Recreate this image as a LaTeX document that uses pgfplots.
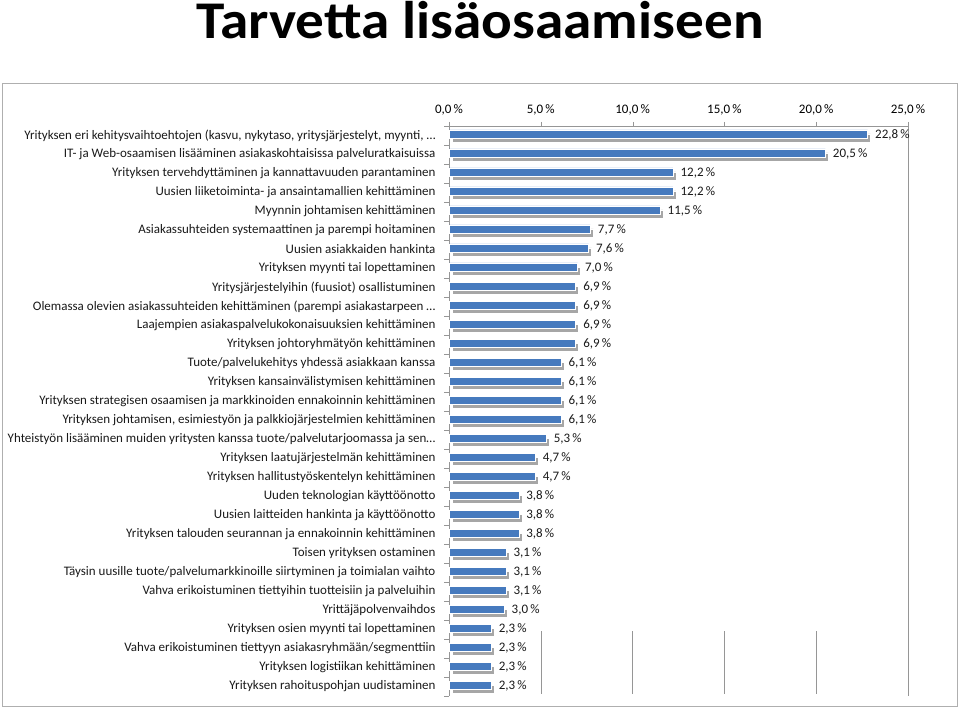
\documentclass[border=0pt]{standalone}
\usepackage{fontspec}
\setmainfont{Carlito}
\usepackage{pgfplots}
\pgfplotsset{compat=1.18}
\usetikzlibrary{shadows}
\definecolor{barblue}{RGB}{70,122,190}
\definecolor{framegray}{RGB}{175,175,175}
\definecolor{axgray}{RGB}{150,150,150}
\begin{document}
\begin{tikzpicture}[x=1pt,y=1pt]
\useasboundingbox (0,0) rectangle (960,711);
\draw[framegray, line width=1pt] (2,4) rectangle (957,627);
\node[anchor=base, xscale=1.08, font=\fontsize{53}{60}\selectfont\bfseries] at (480,672) {Tarvetta lisäosaamiseen};
\begin{axis}[
  at={(449pt,15pt)}, anchor=south west,
  width=459pt, height=570pt, scale only axis,
  xbar, bar width=8pt,
  xmin=0, xmax=25,
  ymin=-0.5, ymax=29.5,
  y dir=reverse,
  axis x line*=top, axis y line*=left,
  axis line style={axgray},
  xtick={0,5,10,15,20,25},
  xticklabel={\pgfmathprintnumber[fixed,fixed zerofill,precision=1,use comma,assume math mode=true]{\tick}\,\%},
  xticklabel style={font=\fontsize{13}{15}\selectfont, yshift=3pt},
  tick align=outside,
  major tick length=4pt, minor tick length=5pt,
  x tick style={axgray},
  ytick={0,...,29},
  minor ytick={-0.5,0.5,...,29.5},
  every major y tick/.append style={draw=none},
  every minor y tick/.append style={axgray},
  yticklabel style={font=\fontsize{13}{15}\selectfont, xshift=-6pt, black!90},
  yticklabels={
    {Yrityksen eri kehitysvaihtoehtojen (kasvu, nykytaso, yritysjärjestelyt, myynti, …},
    {IT- ja Web-osaamisen lisääminen asiakaskohtaisissa palveluratkaisuissa},
    {Yrityksen tervehdyttäminen ja kannattavuuden parantaminen},
    {Uusien liiketoiminta- ja ansaintamallien kehittäminen},
    {Myynnin johtamisen kehittäminen},
    {Asiakassuhteiden systemaattinen ja parempi hoitaminen},
    {Uusien asiakkaiden hankinta},
    {Yrityksen myynti tai lopettaminen},
    {Yritysjärjestelyihin (fuusiot) osallistuminen},
    {Olemassa olevien asiakassuhteiden kehittäminen (parempi asiakastarpeen …},
    {Laajempien asiakaspalvelukokonaisuuksien kehittäminen},
    {Yrityksen johtoryhmätyön kehittäminen},
    {Tuote/palvelukehitys yhdessä asiakkaan kanssa},
    {Yrityksen kansainvälistymisen kehittäminen},
    {Yrityksen strategisen osaamisen ja markkinoiden ennakoinnin kehittäminen},
    {Yrityksen johtamisen, esimiestyön ja palkkiojärjestelmien kehittäminen},
    {Yhteistyön lisääminen muiden yritysten kanssa tuote/palvelutarjoomassa ja sen…},
    {Yrityksen laatujärjestelmän kehittäminen},
    {Yrityksen hallitustyöskentelyn kehittäminen},
    {Uuden teknologian käyttöönotto},
    {Uusien laitteiden hankinta ja käyttöönotto},
    {Yrityksen talouden seurannan ja ennakoinnin kehittäminen},
    {Toisen yrityksen ostaminen},
    {Täysin uusille tuote/palvelumarkkinoille siirtyminen ja toimialan vaihto},
    {Vahva erikoistuminen tiettyihin tuotteisiin ja palveluihin},
    {Yrittäjäpolvenvaihdos},
    {Yrityksen osien myynti tai lopettaminen},
    {Vahva erikoistuminen tiettyyn asiakasryhmään/segmenttiin},
    {Yrityksen logistiikan kehittäminen},
    {Yrityksen rahoituspohjan uudistaminen}
  },
  point meta=x,
  nodes near coords={\pgfmathprintnumber[fixed,fixed zerofill,precision=1,use comma,assume math mode=true]{\pgfplotspointmeta}\,\%},
  every node near coord/.append style={font=\fontsize{13}{15}\selectfont, anchor=west, xshift=4pt, yshift=-1pt, black!90},
  clip=false,
]
\draw[axgray] (axis cs:25,-0.5) -- (axis cs:25,29.5);
\draw[axgray] (axis cs:5,26.1) -- (axis cs:5,29.4);
\draw[axgray] (axis cs:10,26.1) -- (axis cs:10,29.4);
\draw[axgray] (axis cs:15,26.1) -- (axis cs:15,29.4);
\draw[axgray] (axis cs:20,26.1) -- (axis cs:20,29.4);
\addplot[draw=white, fill=barblue, line width=0.5pt, bar shift=1.5pt,
  drop shadow={shadow xshift=3pt, shadow yshift=-4pt, fill=black!35, opacity=1}]
coordinates {
(22.8,0) (20.5,1) (12.2,2) (12.2,3) (11.5,4) (7.7,5) (7.6,6) (7.0,7) (6.9,8) (6.9,9)
(6.9,10) (6.9,11) (6.1,12) (6.1,13) (6.1,14) (6.1,15) (5.3,16) (4.7,17) (4.7,18) (3.8,19)
(3.8,20) (3.8,21) (3.1,22) (3.1,23) (3.1,24) (3.0,25) (2.3,26) (2.3,27) (2.3,28) (2.3,29)
};
\end{axis}
\end{tikzpicture}
\end{document}
